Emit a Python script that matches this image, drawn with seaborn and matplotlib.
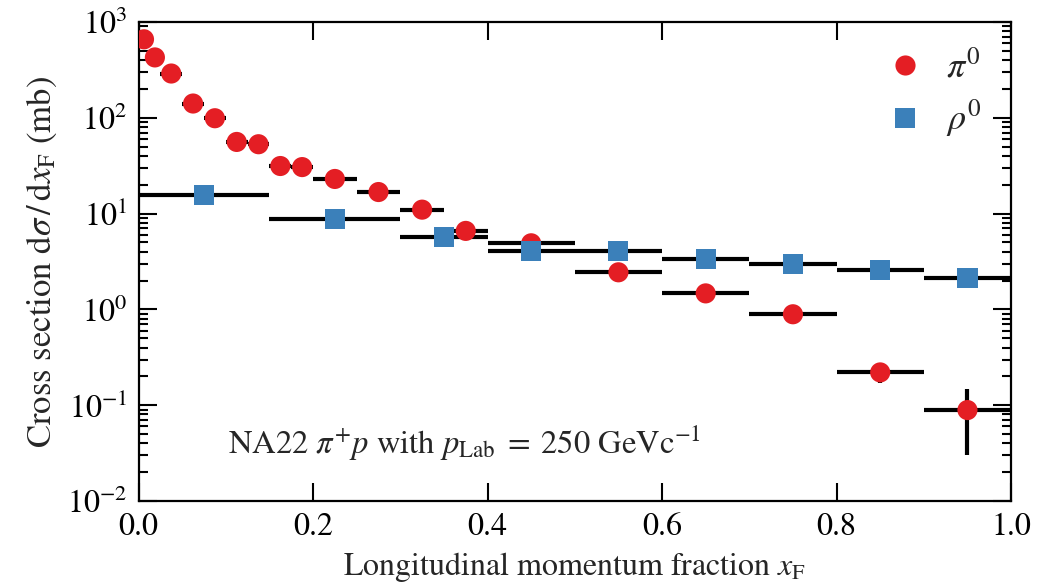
import numpy as np
import pandas as pd
import matplotlib
matplotlib.use("Agg")
import matplotlib.pyplot as plt
import seaborn as sns

# ---- data ----
pi0_x = [0.00625, 0.01875, 0.0375, 0.0625, 0.0875, 0.1125, 0.1375, 0.1625, 0.1875,
         0.225, 0.275, 0.325, 0.375, 0.45, 0.55, 0.65, 0.75, 0.85, 0.95]
pi0_xerr = [0.00625, 0.00625, 0.0125, 0.0125, 0.0125, 0.0125, 0.0125, 0.0125, 0.0125,
            0.025, 0.025, 0.025, 0.025, 0.05, 0.05, 0.05, 0.05, 0.05, 0.05]
pi0_y = [660, 427, 290, 141, 99, 56, 53, 31.4, 30.6,
         23, 16.8, 11, 6.6, 4.9, 2.44, 1.47, 0.89, 0.22, 0.089]
pi0_yerr = [20, 15, 10, 5, 4, 2, 2, 1.2, 1.2,
            0.8, 0.6, 0.4, 0.3, 0.2, 0.12, 0.08, 0.06, 0.05, 0.059]

rho_x = [0.075, 0.225, 0.35, 0.45, 0.55, 0.65, 0.75, 0.85, 0.95]
rho_xerr = [0.075, 0.075, 0.05, 0.05, 0.05, 0.05, 0.05, 0.05, 0.05]
rho_y = [15.6, 8.8, 5.7, 4.08, 4.08, 3.36, 2.98, 2.58, 2.13]
rho_yerr = [0.5, 0.3, 0.2, 0.15, 0.15, 0.12, 0.1, 0.1, 0.1]

series_labels = [r"$\pi^0$", r"$\rho^0$"]
annotation = r"NA22 $\pi^{+}p$ with $p_{\rm Lab}\;=\;250$ GeVc$^{-1}$"
xlabel = r"Longitudinal momentum fraction $x_{\rm F}$"
ylabel = r"Cross section d$\sigma\,/\,$d$x_{\rm F}$ (mb)"

# ---- style ----
sns.set_theme(style="ticks")
plt.rcParams["font.family"] = ["STIXGeneral", "DejaVu Serif"]
plt.rcParams["mathtext.fontset"] = "stix"

red = "#e41e24"
blue = "#3b80ba"

df = pd.DataFrame({
    "x": pi0_x + rho_x,
    "y": pi0_y + rho_y,
    "species": [series_labels[0]] * len(pi0_x) + [series_labels[1]] * len(rho_x),
})

fig = plt.figure(figsize=(10.37, 5.84), dpi=100)
ax = fig.add_axes([0.1336, 0.1421, 0.975 - 0.1336, 0.9623 - 0.1421])

ax.errorbar(pi0_x, pi0_y, xerr=pi0_xerr, yerr=pi0_yerr, fmt="none",
            ecolor="black", elinewidth=3, capsize=0, zorder=2)
ax.errorbar(rho_x, rho_y, xerr=rho_xerr, yerr=rho_yerr, fmt="none",
            ecolor="black", elinewidth=3, capsize=0, zorder=2)

sns.scatterplot(data=df, x="x", y="y", hue="species", style="species",
                hue_order=series_labels, style_order=series_labels,
                palette=[red, blue], markers=["o", "s"], s=210,
                edgecolor="none", linewidth=0, ax=ax, zorder=3)

ax.set_yscale("log")
ax.set_xlim(0, 1.0)
ax.set_ylim(1e-2, 1e3)
ax.set_xticks([0, 0.2, 0.4, 0.6, 0.8, 1.0])
ax.set_xticklabels(["0.0", "0.2", "0.4", "0.6", "0.8", "1.0"])

ax.tick_params(which="both", direction="in", top=True, right=True,
               labelsize=23, width=1.5, colors="black")
ax.tick_params(which="major", length=13, pad=8)
ax.tick_params(which="minor", length=6.5)
ax.yaxis.set_minor_locator(matplotlib.ticker.LogLocator(base=10, subs=np.arange(2, 10)))
for s in ax.spines.values():
    s.set_linewidth(1.6)
    s.set_color("black")

ax.set_xlabel(xlabel, fontsize=23, labelpad=6)
ax.set_ylabel(ylabel, fontsize=25, labelpad=6)

ax.text(0.102, 0.121, annotation, transform=ax.transAxes, fontsize=23.5,
        va="center", ha="left")

leg = ax.legend(loc="upper right", frameon=False, fontsize=26,
                handletextpad=0.15, labelspacing=0.35, borderaxespad=0.4)
for h in leg.legend_handles:
    h.set_markersize(14.5)
    h.set_markeredgewidth(0)

fig.savefig("out.png", dpi=100)
